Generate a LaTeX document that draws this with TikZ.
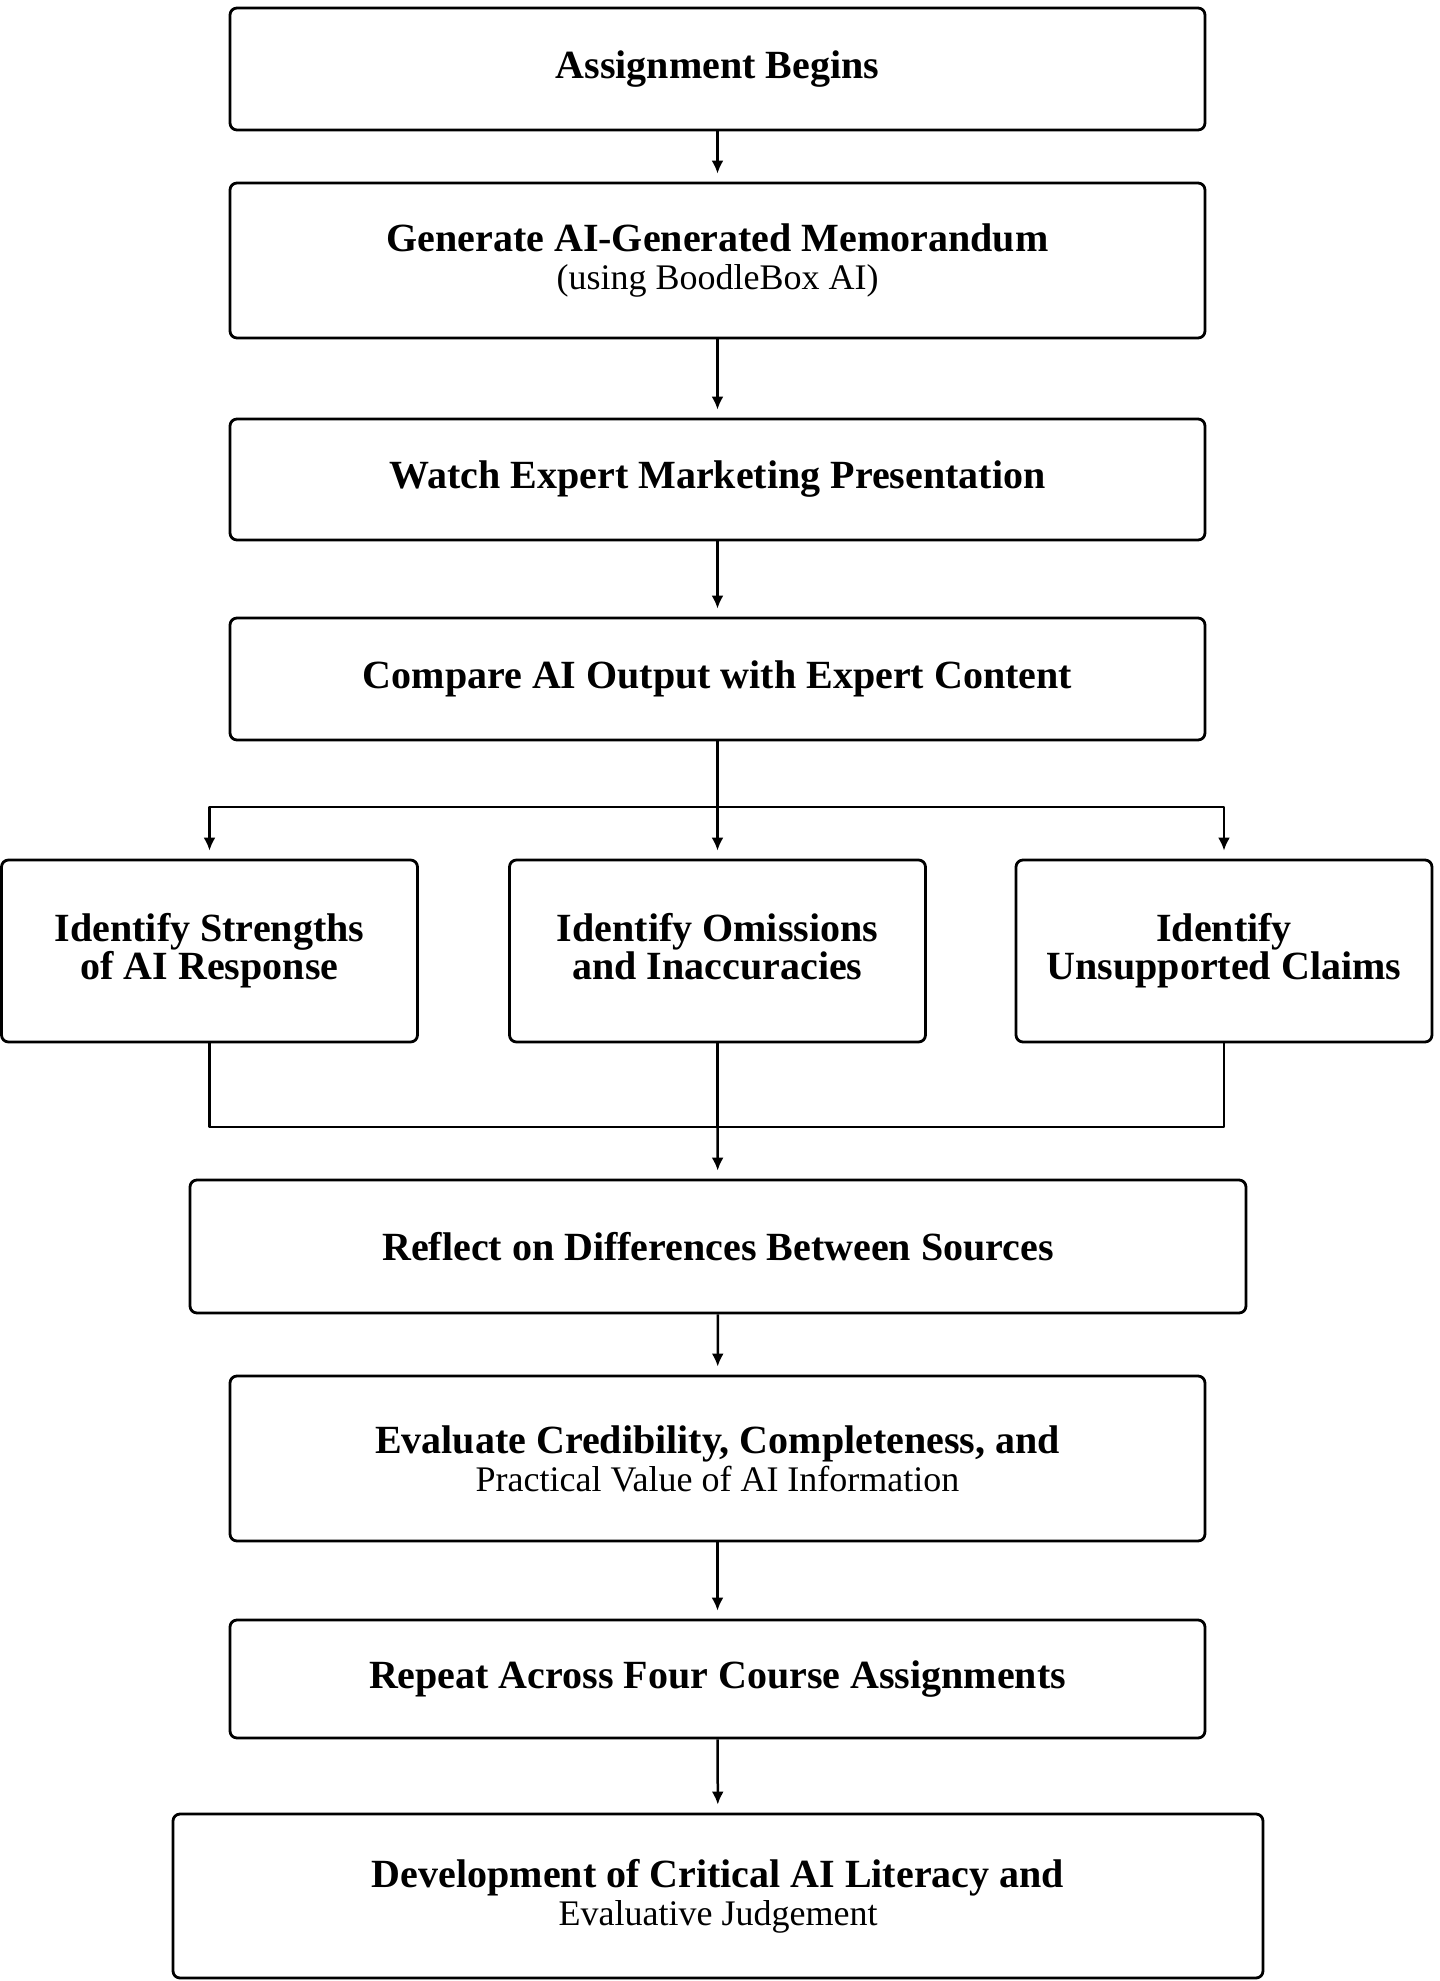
\documentclass[tikz,border=0pt]{standalone}
\usepackage{fontspec}
\setmainfont{Liberation Serif}
\usetikzlibrary{arrows.meta}
\begin{document}
\begin{tikzpicture}[x=0.5pt,y=-0.5pt,line join=round,>={Latex[length=6.5pt,width=6pt]}]
			\tikzset{box/.style={draw,line width=1.4pt,rounded corners=3.5pt,align=center,inner sep=0pt,
					minimum width=487.5pt,font=\fontsize{20}{19}\selectfont\bfseries},
				link/.style={line width=1.25pt},
				every node/.append style={text=black}}
			\def\sub#1{{\fontsize{18}{19}\selectfont\mdseries #1}}
			\def\wsmall{208pt}
			\useasboundingbox (0,0) rectangle (1440,1981);
			\node[box,minimum height=61pt] (begin) at (717.5,69) {Assignment Begins};
			\node[box,minimum height=77.5pt] (memo) at (717.5,260.5) {Generate AI-Generated Memorandum\\\sub{(using BoodleBox AI)}};
			\node[box,minimum height=60.5pt] (watch) at (717.5,479.5) {Watch Expert Marketing Presentation};
			\node[box,minimum height=61pt] (compare) at (717.5,679) {Compare AI Output with Expert Content};
			\node[box,minimum width=\wsmall,minimum height=91pt] (strengths) at (209.5,951) {Identify Strengths\\of AI Response};
			\node[box,minimum width=\wsmall,minimum height=91pt] (omissions) at (717.5,951) {Identify Omissions\\and Inaccuracies\vphantom{p}};
			\node[box,minimum width=\wsmall,minimum height=91pt] (claims) at (1224,951) {Identify\\Unsupported Claims};
			\node[box,minimum width=528pt,minimum height=66.5pt] (reflect) at (718,1246.5) {Reflect on Differences Between Sources};
			\node[box,minimum height=82.5pt] (evaluate) at (717.5,1458.5) {Evaluate Credibility, Completeness, and\\\sub{Practical Value of AI Information}};
			\node[box,minimum height=59pt] (repeat) at (717.5,1679) {Repeat Across Four Course Assignments};
			\node[box,minimum width=545pt,minimum height=82pt] (develop) at (718,1896) {Development of Critical AI Literacy and\\\sub{Evaluative Judgement}};
			\coordinate (fork) at (717.5,807);
			\coordinate (join) at (717.5,1127);
			\draw[link,->,shorten >=4pt] (begin) -- (memo);
			\draw[link,->,shorten >=4pt] (memo) -- (watch);
			\draw[link,->,shorten >=4pt] (watch) -- (compare);
			\draw[link] (compare) -- (fork);
			\draw[link,->,shorten >=4pt] (fork) -| (strengths);
			\draw[link,->,shorten >=4pt] (fork) -- (omissions);
			\draw[link,->,shorten >=4pt] (fork) -| (claims);
			\draw[link] (strengths) |- (join) (claims) |- (join) (omissions) -- (join);
			\draw[link,->,shorten >=4pt] (join) -- (reflect);
			\draw[link,->,shorten >=4pt] (reflect) -- (evaluate);
			\draw[link,->,shorten >=4pt] (evaluate) -- (repeat);
			\draw[link,->,shorten >=4pt] (repeat) -- (develop);
		\end{tikzpicture}
\end{document}
